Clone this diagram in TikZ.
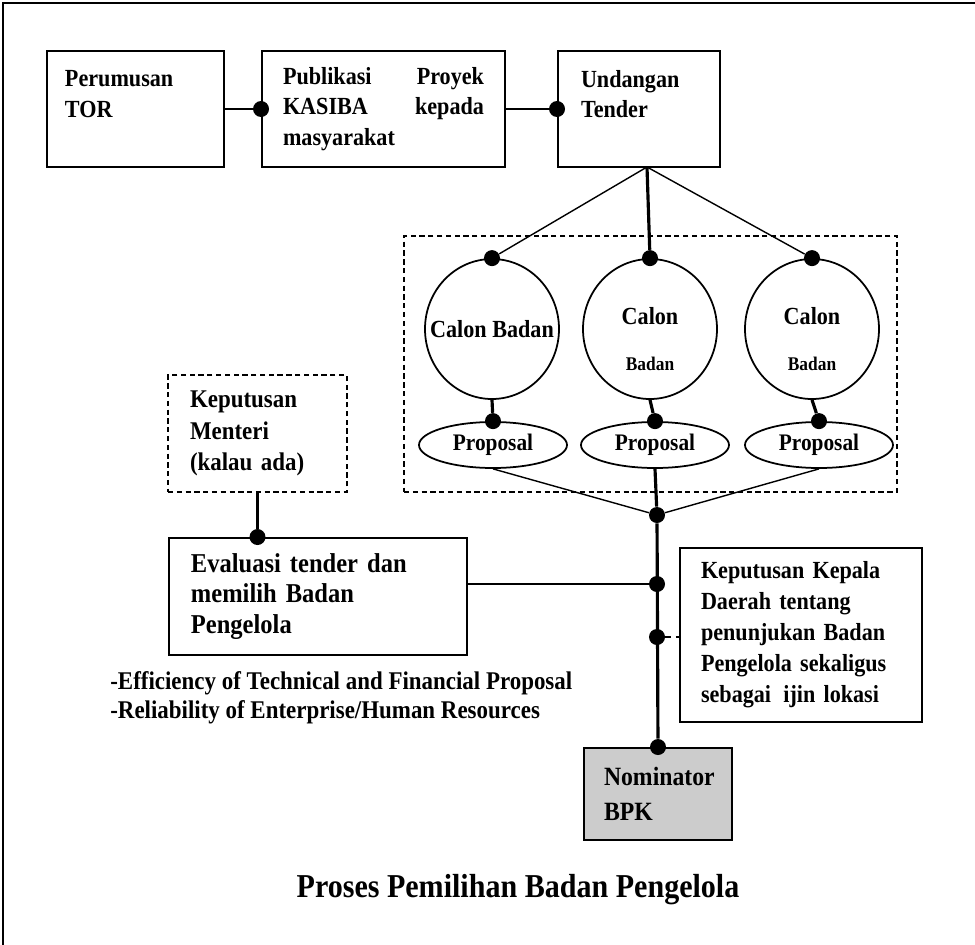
\documentclass[tikz,border=0pt]{standalone}
\usepackage{fontspec}
\setmainfont{Liberation Serif}[FakeStretch=0.9]
\usetikzlibrary{shapes.geometric, positioning, calc}
\newcommand{\boxfont}{\fontsize{14}{17.3}\selectfont\bfseries}
\newcommand{\smallbadan}{{\fontsize{11}{12}\selectfont Badan}}
\tikzset{
  box/.style={rectangle, draw=black, line width=1.1pt, inner sep=0pt, align=left, font=\boxfont},
  dbox/.style={box, dashed, dash pattern=on 3pt off 2pt},
  bubble/.style={ellipse, draw=black, line width=1pt, inner sep=0pt, minimum width=26.8mm, minimum height=28mm},
  prop/.style={ellipse, draw=black, line width=1pt, inner sep=0pt, minimum width=29.6mm, minimum height=9.2mm, font=\fontsize{13.5}{15}\selectfont\bfseries},
  dot/.style={circle, fill=black, inner sep=0pt, minimum size=3.2mm},
  link/.style={line width=0.8pt},
  trunk/.style={line width=1.8pt}
}

\begin{document}
\begin{tikzpicture}[x=0.2mm, y=-0.2mm]
    \useasboundingbox (0,0) rectangle (975,945);

    % Bingkai
    \draw[line width=1.2pt] (975,3) -- (3,3) -- (3,945);

    % 1. Baris atas
    \node[box, minimum width=35.4mm, minimum height=23.2mm, text width=28.2mm] (tor) at (135.5,109) {Perumusan\\TOR\\\mbox{}};
    \node[box, minimum width=48.6mm, minimum height=23.2mm, text width=40.2mm] (pub) at (383.5,109) {Publikasi\hfill Proyek\\KASIBA\hfill kepada\\masyarakat};
    \node[box, minimum width=32.4mm, minimum height=23.2mm, text width=23.2mm] (und) at (639,109) {Undangan\\Tender\\\mbox{}};

    \node[dot] (dpub) at (pub.west) {};
    \node[dot] (dund) at (und.west) {};
    \draw[link] (tor.east) -- (dpub);
    \draw[link] (pub.east) -- (dund);

    % 2. Calon Badan dan proposal
    \node[dbox, minimum width=98.6mm, minimum height=51.2mm] (grp) at (650.5,364) {};
    \coordinate (fan) at (647,167);

    \foreach \idx/\cx/\pcx/\dy/\lbl in {1/492/493/0/{Calon Badan}, 2/650/655/-2/{Calon\\[9pt]\smallbadan}, 3/812/819/-2/{Calon\\[9pt]\smallbadan}} {
        \node[bubble] (c\idx) at (\cx,329) {};
        \node[align=center, inner sep=0pt, font=\boxfont, yshift=\dy mm] (n\idx) at (c\idx.center) {\lbl};
        \node[dot] (t\idx) at (c\idx.north) {};
        \node[prop] (p\idx) at (\pcx,445) {Proposal};
        \node[dot] (s\idx) at (p\idx.north) {};
        \draw[trunk] (c\idx.south) -- (s\idx);
    }

    \draw[link] (fan) -- (t1);
    \draw[trunk] (fan) -- (t2);
    \draw[link] (fan) -- (t3);

    % 3. Jalur utama
    \node[dot] (j1) at (657,515) {};
    \node[dot] (j2) at (657,584) {};
    \node[dot] (j3) at (657,637) {};
    \draw[link] (p1.south) -- (j1);
    \draw[link] (p3.south) -- (j1);
    \draw[trunk] (p2.south) -- (j1);

    \node[box, fill=gray!40, minimum width=29.6mm, minimum height=18.4mm, text width=21.6mm,
          font=\fontsize{15}{19.8}\selectfont\bfseries] (nom) at (658,794) {Nominator\\BPK};
    \node[dot] (j4) at (nom.north) {};
    \draw[trunk] (j1) -- (j4);

    % 4. Evaluasi
    \node[dbox, minimum width=35.8mm, minimum height=23.4mm, text width=27mm,
          font=\fontsize{14.5}{17.9}\selectfont\bfseries] (km) at (257.5,433.5) {Keputusan\\Menteri\\(kalau ada)};
    \node[box, minimum width=59.6mm, minimum height=23.4mm, text width=50.8mm,
          font=\fontsize{15.5}{17.6}\selectfont\bfseries] (ev) at (318,596.5) {Evaluasi tender dan\\memilih Badan\\Pengelola};
    \node[dot] (dev) at (km.south |- ev.north) {};
    \draw[trunk] (km.south) -- (dev);
    \draw[link] (ev.east |- j2) -- (j2);

    \node[box, minimum width=48.4mm, minimum height=34.8mm, text width=40mm,
          font=\fontsize{14}{17.6}\selectfont\bfseries] (kk) at (801,635)
        {Keputusan Kepala\\Daerah tentang\\penunjukan Badan\\Pengelola sekaligus\\sebagai\enspace ijin lokasi};
    \draw[link, dashed] (j3) -- (j3 -| kk.west);

    \node[anchor=west, align=left, inner sep=0pt, font=\fontsize{14.5}{16.4}\selectfont\bfseries] (crit) at (110,697.5)
        {-Efficiency of Technical and Financial Proposal\\-Reliability of Enterprise/Human Resources};

    % 5. Judul
    \node[font=\fontsize{19}{22}\selectfont\bfseries] (title) at (518,890) {Proses Pemilihan Badan Pengelola};

\end{tikzpicture}
\end{document}
